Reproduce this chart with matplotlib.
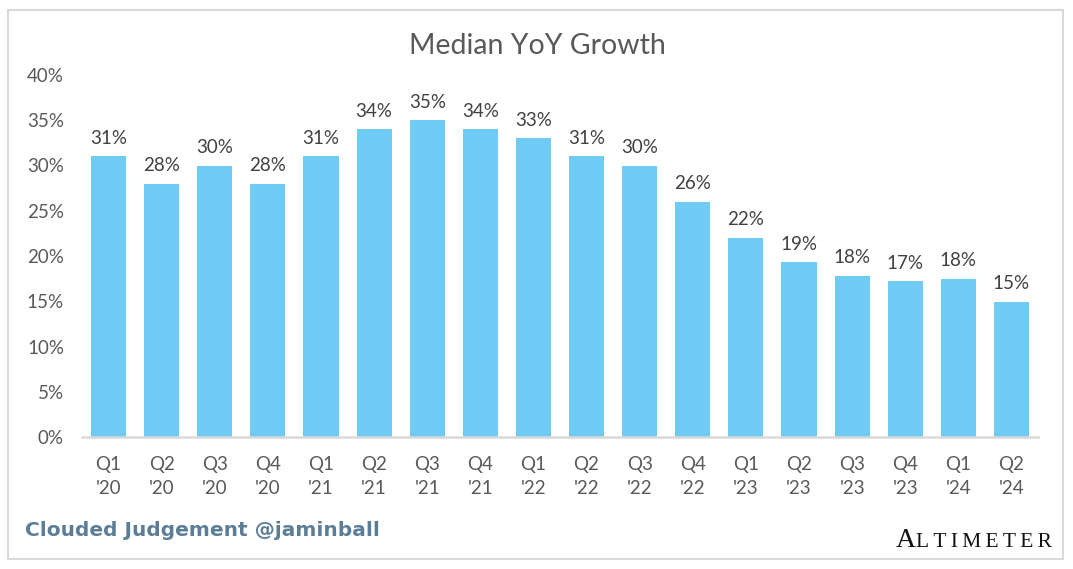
"""
Median YoY Growth - quarterly bar chart (Clouded Judgement style).
"""

import matplotlib
matplotlib.use("Agg")
import matplotlib.pyplot as plt
from matplotlib.patches import Rectangle

# Chart data
quarters = ["Q1", "Q2", "Q3", "Q4", "Q1", "Q2", "Q3", "Q4", "Q1",
            "Q2", "Q3", "Q4", "Q1", "Q2", "Q3", "Q4", "Q1", "Q2"]
years = ["'20", "'20", "'20", "'20", "'21", "'21", "'21", "'21", "'22",
         "'22", "'22", "'22", "'23", "'23", "'23", "'23", "'24", "'24"]
growth = [31, 28, 30, 28, 31, 34, 35, 34, 33,
          31, 30, 26, 22, 19.3, 17.8, 17.2, 17.5, 14.9]
y_ticks = [0, 5, 10, 15, 20, 25, 30, 35, 40]

BAR_COLOR = "#70CBF4"
LABEL_COLOR = "#404040"
TICK_COLOR = "#595959"
BASE_FONT = ["Lato", "DejaVu Sans"]
SERIF = ["Liberation Serif", "DejaVu Serif"]


def main() -> None:
    plt.rcParams['font.family'] = BASE_FONT
    fig = plt.figure(figsize=(10.73, 5.69), dpi=100)
    fig.patch.set_facecolor("white")

    # outer light grey frame
    fig.patches.append(Rectangle((8 / 1073, 10 / 569), 1055 / 1073, 549 / 569,
                                 transform=fig.transFigure, fill=False,
                                 edgecolor="#D9D9D9", linewidth=1.5))

    ax = fig.add_axes([82 / 1073, 1 - 437 / 569, 956 / 1073, 362 / 569])
    x = list(range(len(growth)))
    ax.bar(x, growth, width=0.66, color=BAR_COLOR, zorder=2)

    for xi, v in zip(x, growth):
        ax.annotate(f"{v:.0f}%", (xi, v), xytext=(0, 7), textcoords="offset points",
                    ha="center", va="bottom", fontsize=13.5, color=LABEL_COLOR)

    ax.set_xlim(-0.5, len(growth) - 0.5)
    ax.set_ylim(0, 40)
    ax.set_yticks(y_ticks)
    ax.set_yticklabels([f"{t}%" for t in y_ticks])
    ax.set_xticks(x)
    ax.set_xticklabels([f"{q}\n{y}" for q, y in zip(quarters, years)],
                       linespacing=1.45)

    ax.tick_params(axis="both", length=0, labelsize=13.5, labelcolor=TICK_COLOR)
    ax.tick_params(axis="x", pad=14)
    ax.tick_params(axis="y", pad=13)
    for side in ["top", "right", "left"]:
        ax.spines[side].set_visible(False)
    ax.spines["bottom"].set_color("#D9D9D9")
    ax.spines["bottom"].set_linewidth(1.8)

    fig.text(537 / 1073, 1 - 46 / 569, "Median YoY Growth", ha="center", va="center",
             fontsize=20.5, color=TICK_COLOR)

    fig.text(25 / 1073, 1 - 531 / 569, "Clouded Judgement @jaminball", ha="left",
             va="center", fontsize=14.5, fontweight="bold", color="#5B7D96",
             family=["DejaVu Sans"])

    # small-caps style logo: big "A" then smaller "LTIMETER"
    base_y = 1 - 547 / 569
    rest = fig.text(1052 / 1073, base_y, "\u2009".join("LTIMETER"),
                    ha="right", va="baseline", fontsize=15.5, color="#111111",
                    family=SERIF)
    fig.add_artist(plt.Annotation("A", xy=(0, base_y), xycoords=(rest, "figure fraction"),
                                  ha="right", va="baseline", fontsize=20,
                                  color="#111111", family=SERIF))

    fig.savefig("out.png", dpi=100, facecolor="white")
    plt.close(fig)


if __name__ == "__main__":
    main()
